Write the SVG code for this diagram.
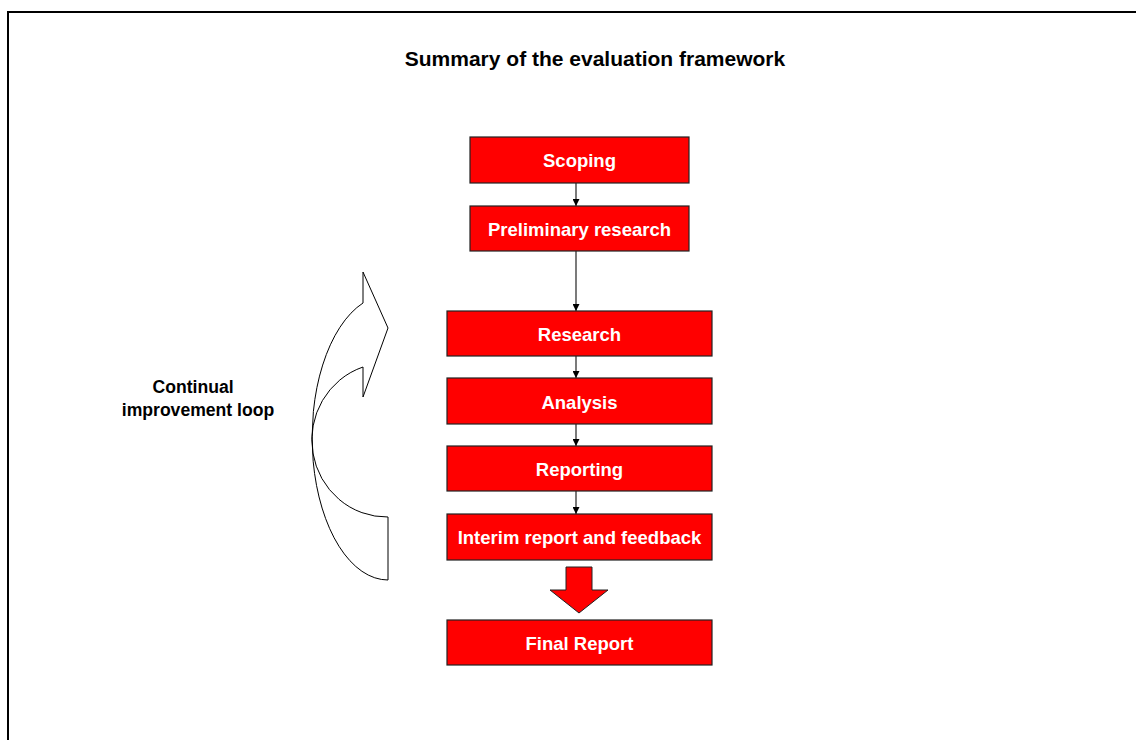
<svg xmlns="http://www.w3.org/2000/svg" width="1136" height="740" viewBox="0 0 1136 740">
<style>
.box{fill:#FF0000;stroke:#222;stroke-width:1.2}
.bt{font-family:"Liberation Sans",Arial,sans-serif;font-weight:bold;font-size:18.5px;fill:#fff;text-anchor:middle}
.lbl{font-family:"Liberation Sans",Arial,sans-serif;font-weight:bold;font-size:17.6px;fill:#000;text-anchor:middle}
.conn{stroke:#222;stroke-width:1.2;fill:none;marker-end:url(#ah)}
</style>
<defs>
<marker id="ah" viewBox="0 0 10 10" refX="10" refY="5" markerWidth="7" markerHeight="7" markerUnits="userSpaceOnUse" orient="auto">
<path d="M0 0 L10 5 L0 10 Z" fill="#000"/>
</marker>
</defs>
<rect width="1136" height="740" fill="#fff"/>
<path d="M8 741 L8 12 L1137 12" fill="none" stroke="#000" stroke-width="2"/>
<text class="lbl" x="595" y="66" style="font-size:21px">Summary of the evaluation framework</text>
<g id="loop">
<path d="M388 580 A76 142.5 0 0 1 363 303 L363 272 L388 328 L363 397 L363 367 A75 77 0 0 0 388 517 Z" fill="#fff" stroke="#000" stroke-width="1"/>
<text class="lbl" x="193" y="393">Continual</text>
<text class="lbl" x="198" y="416">improvement loop</text>
</g>
<g id="connectors">
<line class="conn" x1="576" y1="183" x2="576" y2="206"/>
<line class="conn" x1="576" y1="251" x2="576" y2="311"/>
<line class="conn" x1="576" y1="356" x2="576" y2="378"/>
<line class="conn" x1="576" y1="424" x2="576" y2="446"/>
<line class="conn" x1="576" y1="491" x2="576" y2="514"/>
<polygon points="566,567 592,567 592,590 608,590 579,613 550,590 566,590" fill="#FF0000" stroke="#222" stroke-width="1"/>
</g>
<g id="scoping"><rect class="box" x="470" y="137" width="219" height="46"/><text class="bt" x="579.5" y="167">Scoping</text></g>
<g id="preliminary"><rect class="box" x="470" y="206" width="219" height="45"/><text class="bt" x="579.5" y="236">Preliminary research</text></g>
<g id="research"><rect class="box" x="447" y="311" width="265" height="45"/><text class="bt" x="579.5" y="341">Research</text></g>
<g id="analysis"><rect class="box" x="447" y="378" width="265" height="46"/><text class="bt" x="579.5" y="408.5">Analysis</text></g>
<g id="reporting"><rect class="box" x="447" y="446" width="265" height="45"/><text class="bt" x="579.5" y="476">Reporting</text></g>
<g id="interim"><rect class="box" x="447" y="514" width="265" height="46"/><text class="bt" x="579.5" y="544">Interim report and feedback</text></g>
<g id="final"><rect class="box" x="447" y="620" width="265" height="45"/><text class="bt" x="579.5" y="650">Final Report</text></g>
</svg>
